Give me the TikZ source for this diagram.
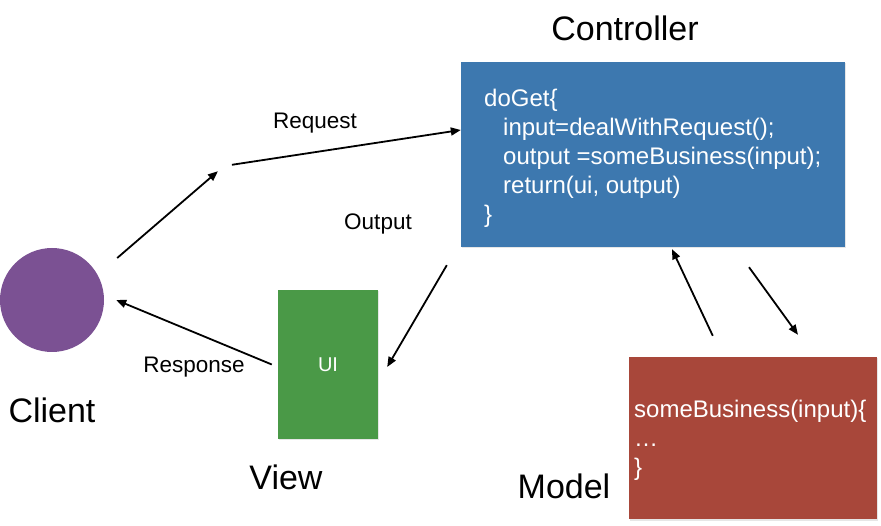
\documentclass[tikz,border=0pt]{standalone}
\usepackage{fontspec}
\setmainfont{Liberation Sans}
\usepackage{tikz}
\usetikzlibrary{arrows.meta}
\usetikzlibrary{positioning}
\usetikzlibrary{shadows}

\definecolor{clientpurple}{HTML}{7B5193}
\definecolor{ctrlblue}{HTML}{3D78AF}
\definecolor{viewgreen}{HTML}{4A9947}
\definecolor{modelred}{HTML}{A8473A}

\begin{document}
\begin{tikzpicture}[
    x=1pt, y=-1pt,
    box/.style={draw=none, rectangle, inner sep=0pt},
    shade box/.style={drop shadow={opacity=0.2, shadow xshift=1pt, shadow yshift=-1.5pt}},
    title/.style={font=\fontsize{34}{40}\selectfont},
    lbl/.style={font=\fontsize{22.5}{27}\selectfont},
    code/.style={text=white, align=left, inner sep=0pt, font=\fontsize{24}{29}\selectfont},
    arr/.style={-{Triangle[length=10pt,width=8pt]}, line width=1.8pt}
]
    \useasboundingbox (0,0) rectangle (881,526);

    % Boxes
    \node[box, circle, fill=clientpurple, minimum size=104pt] (client) at (52,300) {};
    \node[box, shade box, fill=ctrlblue, minimum width=384pt, minimum height=185pt] (ctrl) at (653,154.5) {};
    \node[box, shade box, fill=viewgreen, minimum width=100pt, minimum height=149pt] (view) at (328,364.5) {};
    \node[box, shade box, fill=modelred, minimum width=248pt, minimum height=162pt] (model) at (753,438) {};

    % Titles
    \node[title] (clientname) at (52,410) {Client};
    \node[title] (ctrlname) at (625,28) {Controller};
    \node[title] (viewname) at (286,477) {View};
    \node[title] (modelname) at (564,486) {Model};

    % Code inside the boxes
    \node[code, anchor=west] (ctrlcode) at (484,158) {doGet\{\\
        \hspace*{19pt}input=dealWithRequest();\\
        \hspace*{19pt}output =someBusiness(input);\\
        \hspace*{19pt}return(ui, output)\\
        \}};
    \node[code, font=\fontsize{20}{24}\selectfont] (ui) at (view.center) {UI};
    \node[code, anchor=west] (modelcode) at (634,440) {someBusiness(input)\{\\
        …\\
        \}};

    % Connectors
    \coordinate (req) at (224,166);
    \draw[arr, shorten >=8pt] ([xshift=13pt,yshift=42pt]client.east) -- (req);
    \draw[arr, shorten <=8pt] (req) -- ([yshift=24.5pt]ctrl.west);
    \draw[arr] ([xshift=-14pt,yshift=-18pt]ctrl.south west) -- ([xshift=9pt,yshift=-2.5pt]view.east);
    \draw[arr] ([xshift=-6pt]view.west) -- ([xshift=12pt]client.east);
    \draw[arr] ([xshift=84pt,yshift=21pt]model.north west) -- ([xshift=19pt,yshift=-2pt]ctrl.south);
    \draw[arr] ([xshift=96pt,yshift=-20pt]ctrl.south) -- ([xshift=45pt,yshift=22pt]model.north);

    % Connector labels
    \node[lbl] (reqlbl) at (315,123) {Request};
    \node[lbl] (outlbl) at (378,224) {Output};
    \node[lbl] (resplbl) at (194,367) {Response};
\end{tikzpicture}
\end{document}
